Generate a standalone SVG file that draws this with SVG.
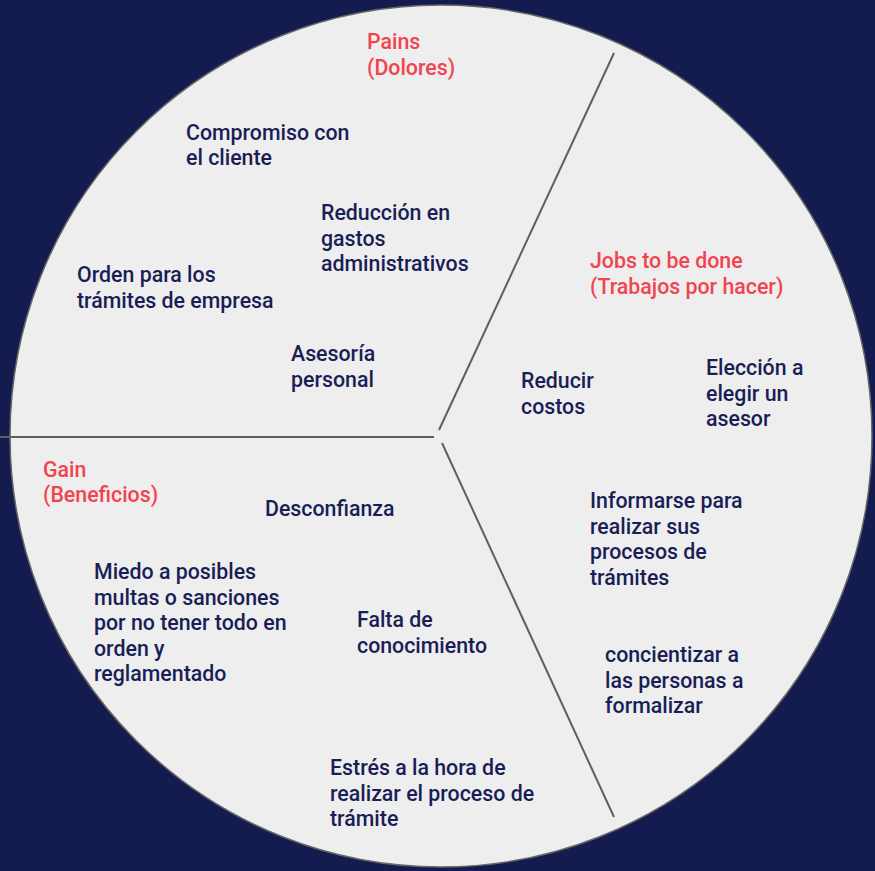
<svg xmlns="http://www.w3.org/2000/svg" width="875" height="871" viewBox="0 0 875 871">
<style>
.t{font-family:Roboto,"Liberation Sans",sans-serif;font-size:21.33px;font-weight:500;fill:#1a1e57}
.h{font-family:Roboto,"Liberation Sans",sans-serif;font-size:21.33px;font-weight:500;fill:#f2444f}
.ln{stroke:#5f5f5f;stroke-width:2;fill:none}
</style>
<rect x="0" y="0" width="875" height="871" fill="#131b4f"/>
<circle id="wheel" cx="441" cy="436" r="431" fill="#eeeeee" stroke="#666666" stroke-width="1.5"/>
<g id="connectors">
<line class="ln" x1="0" y1="437" x2="434" y2="437"/>
<line class="ln" x1="439" y1="430" x2="614" y2="53"/>
<line class="ln" x1="442" y1="443" x2="614" y2="817"/>
</g>
<g id="pains"><text class="h" x="367" y="49">Pains</text><text class="h" x="367" y="75">(Dolores)</text></g>
<g id="jobs"><text class="h" x="590" y="268">Jobs to be done</text><text class="h" x="590" y="294">(Trabajos por hacer)</text></g>
<g id="gain"><text class="h" x="43" y="477">Gain</text><text class="h" x="43" y="502">(Beneficios)</text></g>
<g id="n1"><text class="t" x="186" y="140">Compromiso con</text><text class="t" x="186" y="165">el cliente</text></g>
<g id="n2"><text class="t" x="321" y="220">Reducción en</text><text class="t" x="321" y="246">gastos</text><text class="t" x="321" y="271">administrativos</text></g>
<g id="n3"><text class="t" x="77" y="282">Orden para los</text><text class="t" x="77" y="308">trámites de empresa</text></g>
<g id="n4"><text class="t" x="291" y="361">Asesoría</text><text class="t" x="291" y="387">personal</text></g>
<g id="n5"><text class="t" x="521" y="388">Reducir</text><text class="t" x="521" y="414">costos</text></g>
<g id="n6"><text class="t" x="706" y="375">Elección a</text><text class="t" x="706" y="401">elegir un</text><text class="t" x="706" y="426">asesor</text></g>
<g id="n7"><text class="t" x="265" y="516">Desconfianza</text></g>
<g id="n8"><text class="t" x="590" y="508">Informarse para</text><text class="t" x="590" y="534">realizar sus</text><text class="t" x="590" y="559">procesos de</text><text class="t" x="590" y="585">trámites</text></g>
<g id="n9"><text class="t" x="94" y="579">Miedo a posibles</text><text class="t" x="94" y="605">multas o sanciones</text><text class="t" x="94" y="630">por no tener todo en</text><text class="t" x="94" y="656">orden y</text><text class="t" x="94" y="681">reglamentado</text></g>
<g id="n10"><text class="t" x="357" y="627">Falta de</text><text class="t" x="357" y="653">conocimiento</text></g>
<g id="n11"><text class="t" x="605" y="662">concientizar a</text><text class="t" x="605" y="688">las personas a</text><text class="t" x="605" y="713">formalizar</text></g>
<g id="n12"><text class="t" x="330" y="775">Estrés a la hora de</text><text class="t" x="330" y="801">realizar el proceso de</text><text class="t" x="330" y="826">trámite</text></g>
</svg>
